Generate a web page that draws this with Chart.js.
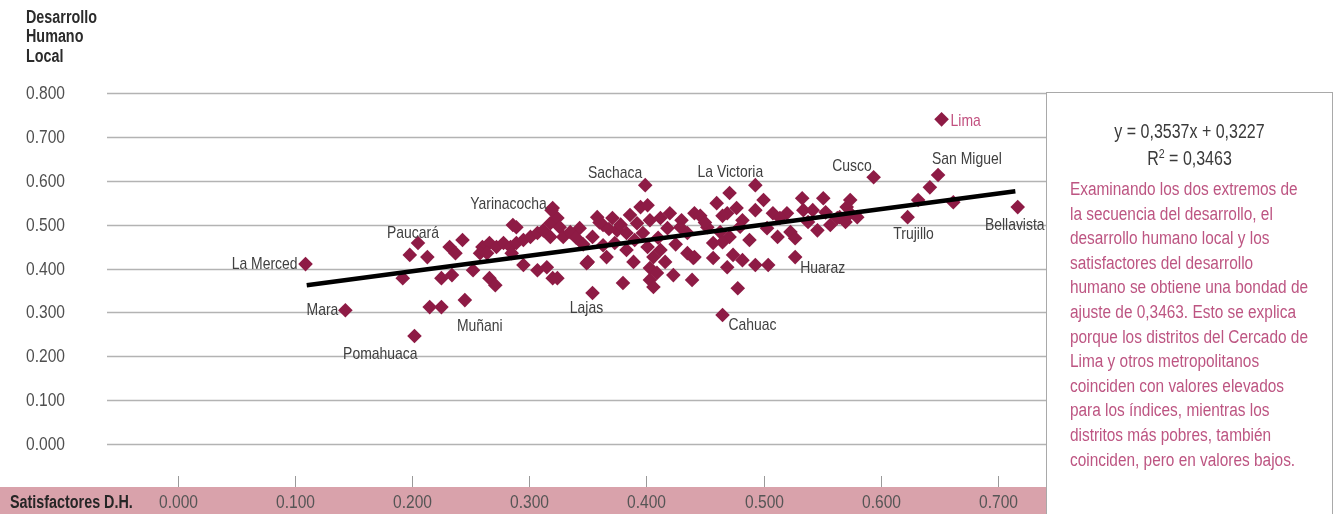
<!DOCTYPE html>
<html>
<head>
<meta charset="utf-8">
<script src="https://cdn.jsdelivr.net/npm/chart.js@4/dist/chart.umd.min.js"></script>
<style>
body { margin: 0; background: #fff; }
#wrap { position: relative; width: 1335px; height: 514px; overflow: hidden; font-family: 'Liberation Sans', Arial, sans-serif; }
#panel { position: absolute; left: 1046px; top: 92px; width: 287px; height: 440px; border: 1.5px solid #a9a9a9; box-sizing: border-box; }
#eq { padding-top: 25px; text-align: center; color: #3a3a3a; font-size: 19.5px; line-height: 27px; transform: scaleX(0.82); transform-origin: 50% 0; }
#eq sup { font-size: 13px; vertical-align: 7px; line-height: 0; }
#note { margin-top: 5px; padding-left: 28px; color: #bd5582; font-size: 18.8px; line-height: 24.6px; white-space: nowrap; transform: scaleX(0.82); transform-origin: 0 0; }
</style>
</head>
<body>
<div id="wrap">
  <canvas id="chart" width="1335" height="514"></canvas>
  <div id="panel">
    <div id="eq">y = 0,3537x + 0,3227<br>R<sup>2</sup> = 0,3463</div>
    <div id="note"></div>
  </div>
</div>
<script>
// districts that carry a name on the chart
const namedNames = ['La Merced', 'Mara', 'Pomahuaca', 'Paucará', 'Muñani', 'Yarinacocha', 'Sachaca', 'La Victoria',
                    'Lajas', 'Cahuac', 'Cusco', 'Lima', 'San Miguel', 'Trujillo', 'Bellavista', 'Huaraz'];
const namedX = [0.109, 0.143, 0.202, 0.205, 0.245, 0.320, 0.399, 0.493, 0.354, 0.465, 0.594, 0.652, 0.649, 0.623, 0.717, 0.527];
const namedY = [0.410, 0.305, 0.246, 0.458, 0.328, 0.538, 0.590, 0.590, 0.344, 0.294, 0.608, 0.740, 0.613, 0.517, 0.540, 0.426];

// the rest of the districts
const otherX = [0.198, 0.213, 0.192, 0.232, 0.243, 0.237, 0.225, 0.234, 0.252, 0.266, 0.271, 0.215, 0.225, 0.286, 0.260,
                0.266, 0.272, 0.278, 0.284, 0.289, 0.295, 0.301, 0.307, 0.312, 0.318, 0.324, 0.258, 0.264, 0.295, 0.307,
                0.315, 0.320, 0.285, 0.289, 0.326, 0.343, 0.358, 0.349, 0.366, 0.319, 0.318, 0.329, 0.335, 0.363, 0.371,
                0.375, 0.354, 0.386, 0.395, 0.401, 0.392, 0.403, 0.412, 0.420, 0.429, 0.418, 0.383, 0.397, 0.350, 0.383,
                0.389, 0.401, 0.406, 0.412, 0.416, 0.403, 0.409, 0.423, 0.435, 0.440, 0.324, 0.380, 0.403, 0.406, 0.439,
                0.435, 0.441, 0.471, 0.460, 0.446, 0.477, 0.469, 0.482, 0.500, 0.508, 0.520, 0.533, 0.551, 0.534, 0.542,
                0.563, 0.452, 0.463, 0.471, 0.488, 0.465, 0.457, 0.503, 0.512, 0.523, 0.546, 0.527, 0.441, 0.457, 0.469,
                0.474, 0.482, 0.493, 0.504, 0.478, 0.574, 0.571, 0.574, 0.565, 0.580, 0.570, 0.632, 0.642, 0.662, 0.514,
                0.553, 0.538, 0.557, 0.493, 0.363, 0.373, 0.340, 0.346, 0.360, 0.368, 0.378, 0.390, 0.410, 0.425, 0.430,
                0.450, 0.465, 0.480];
const otherY = [0.431, 0.426, 0.378, 0.449, 0.465, 0.435, 0.378, 0.385, 0.396, 0.378, 0.362, 0.312, 0.312, 0.499, 0.449,
                0.458, 0.449, 0.458, 0.449, 0.458, 0.465, 0.472, 0.481, 0.487, 0.503, 0.515, 0.435, 0.435, 0.408, 0.396,
                0.403, 0.378, 0.435, 0.494, 0.494, 0.492, 0.517, 0.412, 0.426, 0.533, 0.472, 0.472, 0.483, 0.499, 0.515,
                0.487, 0.472, 0.522, 0.540, 0.544, 0.503, 0.510, 0.515, 0.526, 0.494, 0.492, 0.481, 0.481, 0.415, 0.442,
                0.415, 0.449, 0.426, 0.442, 0.415, 0.401, 0.390, 0.385, 0.435, 0.424, 0.378, 0.367, 0.374, 0.358, 0.374,
                0.481, 0.526, 0.572, 0.549, 0.520, 0.538, 0.526, 0.510, 0.556, 0.526, 0.526, 0.560, 0.560, 0.533, 0.533,
                0.515, 0.494, 0.483, 0.472, 0.465, 0.460, 0.458, 0.492, 0.472, 0.483, 0.487, 0.469, 0.426, 0.424, 0.403,
                0.431, 0.419, 0.408, 0.408, 0.355, 0.556, 0.540, 0.526, 0.517, 0.517, 0.506, 0.556, 0.585, 0.551, 0.515,
                0.528, 0.506, 0.499, 0.533, 0.453, 0.458, 0.470, 0.455, 0.505, 0.490, 0.500, 0.465, 0.470, 0.455, 0.510,
                0.505, 0.520, 0.495];

// ends of the fitted line y = 0,3537x + 0,3227
const trendX = [0.110, 0.715];
const trendY = [0.362, 0.576];

const yTicks = [0, 0.1, 0.2, 0.3, 0.4, 0.5, 0.6, 0.7, 0.8];
const xTicks = [0, 0.1, 0.2, 0.3, 0.4, 0.5, 0.6, 0.7];
const yTitle = ['Desarrollo', 'Humano', 'Local'];
const xTitle = 'Satisfactores D.H.';

const noteLines = ['Examinando los dos extremos de', 'la secuencia del desarrollo, el', 'desarrollo humano local y los',
                   'satisfactores del desarrollo', 'humano se obtiene una bondad de', 'ajuste de 0,3463. Esto se explica',
                   'porque los distritos del Cercado de', 'Lima y otros metropolitanos', 'coinciden con valores elevados',
                   'para los índices, mientras los', 'distritos más pobres, también', 'coinciden, pero en valores bajos.'];
document.getElementById('note').innerHTML = noteLines.join('<br>');

// where each name sits relative to its diamond
const labelPlace = {
    'La Merced': {dx: -8, dy: 0, align: 'right'},
    'Mara': {dx: -7, dy: 0, align: 'right'},
    'Pomahuaca': {dx: 3, dy: 18, align: 'right'},
    'Paucará': {dx: -5, dy: -10, align: 'center'},
    'Muñani': {dx: 15, dy: 26, align: 'center'},
    'Yarinacocha': {dx: -6, dy: -4, align: 'right'},
    'Sachaca': {dx: -3, dy: -12, align: 'right'},
    'La Victoria': {dx: -25, dy: -13, align: 'center'},
    'Lajas': {dx: -6, dy: 15, align: 'center'},
    'Cahuac': {dx: 6, dy: 10, align: 'left'},
    'Cusco': {dx: -2, dy: -11, align: 'right'},
    'Lima': {dx: 9, dy: 2, align: 'left', color: '#c2507f'},
    'San Miguel': {dx: -6, dy: -16, align: 'left'},
    'Trujillo': {dx: 6, dy: 17, align: 'center'},
    'Bellavista': {dx: -3, dy: 18, align: 'center'},
    'Huaraz': {dx: 5, dy: 11, align: 'left'}
};

const FONT = "'Liberation Sans', Arial, sans-serif";
const NARROW = 0.82;
const points = namedX.map((x, i) => ({x: x, y: namedY[i]}))
    .concat(otherX.map((x, i) => ({x: x, y: otherY[i]})));

// condensed text: squeeze a normal face sideways
function narrowText(ctx, text, x, y, align) {
    ctx.save();
    ctx.translate(x, y);
    ctx.scale(NARROW, 1);
    ctx.textAlign = align;
    ctx.fillText(text, 0, 0);
    ctx.restore();
}

const decor = {
    id: 'decor',
    beforeDatasetsDraw(chart) {
        const ctx = chart.ctx, area = chart.chartArea, ys = chart.scales.y;
        ctx.save();
        ctx.strokeStyle = '#b3b3b3';
        ctx.lineWidth = 1.5;
        ctx.fillStyle = '#4f4f4f';
        ctx.font = '19px ' + FONT;
        ctx.textBaseline = 'middle';
        yTicks.forEach(v => {
            const py = Math.round(ys.getPixelForValue(v)) + 0.5;
            ctx.beginPath();
            ctx.moveTo(area.left, py);
            ctx.lineTo(area.right, py);
            ctx.stroke();
            narrowText(ctx, v.toFixed(3), 26, py, 'left');
        });
        ctx.fillStyle = '#2b2b2b';
        ctx.font = 'bold 17.5px ' + FONT;
        yTitle.forEach((t, i) => narrowText(ctx, t, 26, 18 + i * 19.5, 'left'));
        ctx.restore();
    },
    afterDatasetsDraw(chart) {
        const ctx = chart.ctx;
        const meta = chart.getDatasetMeta(1);
        ctx.save();
        ctx.font = '17px ' + FONT;
        ctx.textBaseline = 'middle';
        namedNames.forEach((name, i) => {
            const el = meta.data[i];
            const p = labelPlace[name];
            ctx.fillStyle = p.color || '#404040';
            narrowText(ctx, name, el.x + p.dx, el.y + p.dy, p.align);
        });
        ctx.restore();
    },
    afterDraw(chart) {
        const ctx = chart.ctx, area = chart.chartArea, xs = chart.scales.x;
        ctx.save();
        ctx.fillStyle = '#d9a2ab';
        ctx.fillRect(0, 487, area.right, 27);
        ctx.strokeStyle = '#9a9a9a';
        ctx.lineWidth = 1;
        ctx.font = '19px ' + FONT;
        ctx.textBaseline = 'middle';
        xTicks.forEach(v => {
            const px = Math.round(xs.getPixelForValue(v)) + 0.5;
            ctx.beginPath();
            ctx.moveTo(px, 476);
            ctx.lineTo(px, 487);
            ctx.stroke();
            ctx.fillStyle = '#555';
            narrowText(ctx, v.toFixed(3), px, 503, 'center');
        });
        ctx.fillStyle = '#262626';
        ctx.font = 'bold 17.5px ' + FONT;
        narrowText(ctx, xTitle, 10, 503, 'left');
        ctx.restore();
    }
};

new Chart(document.getElementById('chart'), {
    type: 'scatter',
    data: {
        datasets: [
            {type: 'line', data: trendX.map((x, i) => ({x: x, y: trendY[i]})), borderColor: '#000', borderWidth: 4.5,
             pointRadius: 0, order: 0},
            {data: points, pointStyle: 'rectRot', radius: 7.3, backgroundColor: '#8e1b45', borderWidth: 0, order: 1}
        ]
    },
    options: {
        responsive: false,
        animation: false,
        layout: {padding: {left: 107, top: 93, right: 288, bottom: 70}},
        scales: {
            x: {type: 'linear', min: -0.0605, max: 0.742, display: false},
            y: {type: 'linear', min: 0, max: 0.8, display: false}
        },
        plugins: {legend: {display: false}, tooltip: {enabled: false}}
    },
    plugins: [decor]
});
</script>
</body>
</html>
